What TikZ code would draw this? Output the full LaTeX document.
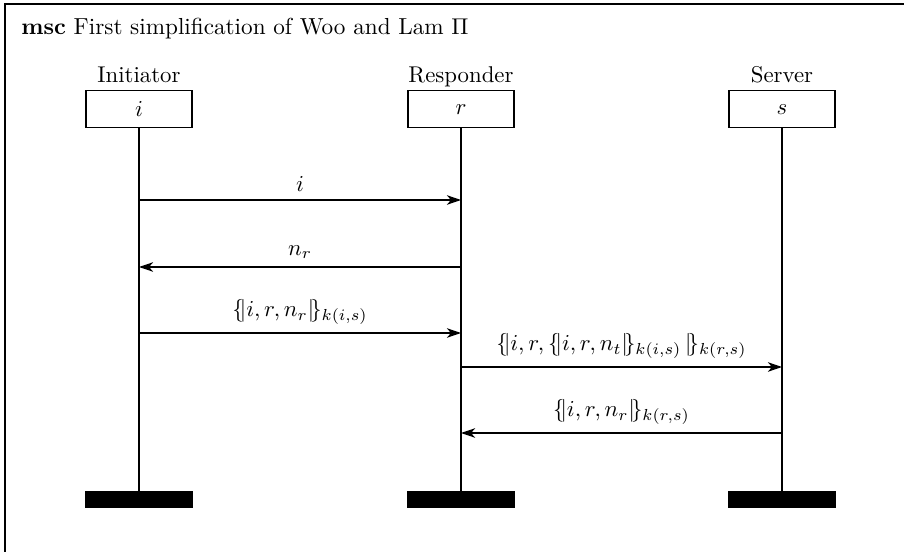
\documentclass[tikz,border=0pt]{standalone}
\usetikzlibrary{arrows.meta}
\begin{document}
\begin{tikzpicture}[x=0.4386pt,y=-0.4386pt,
  line width=0.6pt,
  headbox/.style={draw,minimum width=46.5pt,minimum height=16.2pt,inner sep=0pt},
  endbar/.style={fill=black,draw=black,minimum width=46.5pt,minimum height=6.6pt,inner sep=0pt},
  msg/.style={-{Stealth[length=6.2pt,width=4.2pt,inset=1.8pt]}},
  lbl/.style={anchor=base}]
\clip (0,0) rectangle (904,552);
\draw (5,4) rectangle (920,570);
\node[anchor=base west,inner sep=0pt,font=\fontsize{10.17}{12.2}\selectfont] (title) at (20.7,34.5) {\textbf{msc} First simplification of Woo and Lam $\Pi$};
% instances
\node[lbl] (li) at (139,83) {Initiator};
\node[lbl] (lr) at (461,83) {Responder};
\node[lbl] (ls) at (782,83) {Server};
\node[headbox] (hi) at (139,109.2) {$i$};
\node[headbox] (hr) at (461,109.2) {$r$};
\node[headbox] (hs) at (782,109.2) {$s$};
\node[endbar] (ei) at (139,499.5) {};
\node[endbar] (er) at (461,499.5) {};
\node[endbar] (es) at (782,499.5) {};
\draw (hi.south) -- (ei.north);
\draw (hr.south) -- (er.north);
\draw (hs.south) -- (es.north);
% message points
\coordinate (a1) at (139,200); \coordinate (b1) at (461,200);
\coordinate (a2) at (139,267); \coordinate (b2) at (461,267);
\coordinate (a3) at (139,333); \coordinate (b3) at (461,333);
\coordinate (b4) at (461,367); \coordinate (c4) at (782,367);
\coordinate (b5) at (461,433); \coordinate (c5) at (782,433);
\draw[msg] (a1) -- node[above] {$i$} (b1);
\draw[msg] (b2) -- node[above] {$n_r$} (a2);
\draw[msg] (a3) -- node[above] {$\{\!|i,r,n_r|\!\}_{k(i,s)}$} (b3);
\draw[msg] (b4) -- node[above] {$\{\!|i,r,\{\!|i,r,n_t|\!\}_{k(i,s)}\,|\!\}_{k(r,s)}$} (c4);
\draw[msg] (c5) -- node[above] {$\{\!|i,r,n_r|\!\}_{k(r,s)}$} (b5);
\end{tikzpicture}
\end{document}
